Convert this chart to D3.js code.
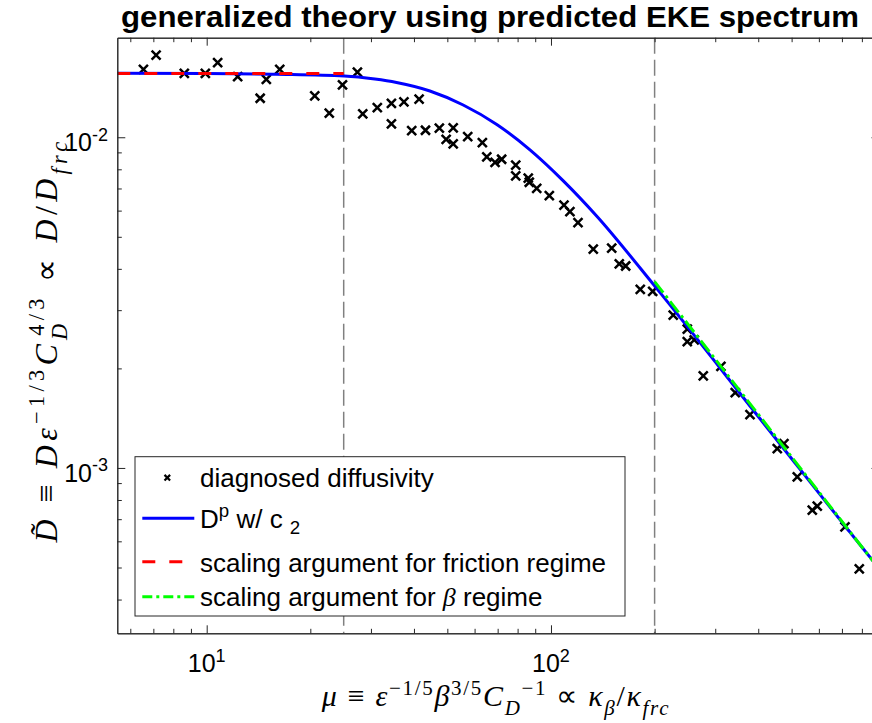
<!DOCTYPE html>
<html><head><meta charset="utf-8">
<script src="https://cdn.jsdelivr.net/npm/d3@7"></script>
<style>body{margin:0;background:#fff}</style>
</head><body>
<svg id="c" width="872" height="723"></svg>
<script>
const titleText = "generalized theory using predicted EKE spectrum";
// diagnosed diffusivity (crosses)
const diagMu = [6.55, 7.13, 8.61, 9.91, 10.76, 12.3, 14.3, 14.9, 16.3, 20.6, 22.7, 24.8, 27.4, 28.4, 31.3, 34.4, 37.4, 41.4, 34.4, 39.4, 43.2, 47.4, 52.0, 49.6, 52.0, 57.3, 63.2, 65.1, 68.8, 71.9, 79.0, 79.0, 85.9, 86.5, 90.9, 98.9, 109.1, 113.5, 119.8, 132.7, 150.1, 157.9, 164.8, 181.7, 197.4, 226.5, 248.8, 248.8, 260.7, 311.6, 276.9, 342.9, 378.5, 454.2, 475.0, 519.3, 574.1, 593.6, 714.4, 786.1];
const diagD = [0.01604, 0.01772, 0.01561, 0.01561, 0.01680, 0.01524, 0.01312, 0.01497, 0.01604, 0.01333, 0.01182, 0.01439, 0.01575, 0.01176, 0.01229, 0.01267, 0.01279, 0.01305, 0.01097, 0.01047, 0.01050, 0.01065, 0.01067, 0.00986, 0.00955, 0.01004, 0.00963, 0.00872, 0.00840, 0.00858, 0.00823, 0.00764, 0.00752, 0.00731, 0.00701, 0.00666, 0.00623, 0.00596, 0.00552, 0.00459, 0.00462, 0.00414, 0.00408, 0.00347, 0.00342, 0.00290, 0.00263, 0.00241, 0.00244, 0.00203, 0.00190, 0.00169, 0.00145, 0.001144, 0.001184, 0.000939, 0.000745, 0.000766, 0.000663, 0.000495];
// D^p w/ c_2 (blue curve)
const predMu = [5.5, 10, 15.85, 25.1, 30.8, 35.6, 44.5, 55.6, 69.6, 86.9, 108.6, 135.7, 200.5, 414, 856, 900];
const predD = [0.01562, 0.0156, 0.0155, 0.01532, 0.0150, 0.01464, 0.0138, 0.01252, 0.01093, 0.00916, 0.00738, 0.00578, 0.00354, 0.001368, 0.000528, 0.000495];
// scaling arguments
const fricMu = [5.5, 25];
const fricD = [0.0156, 0.0156];
const betaMu = [200, 900];
const betaD = [0.00366, 0.000493];
const regimeBounds = [25, 200];
// ticks
const xMajor = [10, 100];
const xMajorExp = ["1", "2"];
const xMinor = [6, 7, 8, 9, 20, 30, 40, 50, 60, 70, 80, 90, 200, 300, 400, 500, 600, 700, 800];
const yMajor = [0.001, 0.01];
const yMajorExp = ["-3", "-2"];
const yMinor = [4e-4, 5e-4, 6e-4, 7e-4, 8e-4, 9e-4, 0.002, 0.003, 0.004, 0.005, 0.006, 0.007, 0.008, 0.009];
const legendLabels = ["diagnosed diffusivity", "D^p w/ c_2", "scaling argument for friction regime", "scaling argument for \u03b2 regime"];

const svg = d3.select("#c");
svg.append("rect").attr("width", 872).attr("height", 723).attr("fill", "#fff");
const L = 117.3, R = 879.5, T = 37.7, B = 633.3;
const x = d3.scaleLog().domain([5.5, 900]).range([L, R]);
const y = d3.scaleLog().domain([Math.pow(10, -3.5), 0.02]).range([B, T]);
const AX = "#262626";
const SANS = "'Liberation Sans', Arial, Helvetica, sans-serif";
const SERIF = "'Liberation Serif', 'Times New Roman', serif";

svg.append("clipPath").attr("id", "clip").append("rect")
  .attr("x", L).attr("y", T).attr("width", R - L).attr("height", B - T);
const plot = svg.append("g").attr("clip-path", "url(#clip)");

// regime boundaries
plot.selectAll("line.vb").data(regimeBounds).join("line")
  .attr("x1", d => x(d)).attr("x2", d => x(d)).attr("y1", T).attr("y2", B)
  .attr("stroke", "#808080").attr("stroke-width", 1.5).attr("stroke-dasharray", "16,6");

// crosses
const pts = diagMu.map((m, i) => [x(m), y(diagD[i])]);
const cs = 4.5;
plot.append("g").selectAll("path").data(pts).join("path")
  .attr("d", p => `M${p[0]-cs},${p[1]-cs}L${p[0]+cs},${p[1]+cs}M${p[0]-cs},${p[1]+cs}L${p[0]+cs},${p[1]-cs}`)
  .attr("stroke", "#000").attr("stroke-width", 2.5).attr("fill", "none");

const line = d3.line().x(d => x(d[0])).y(d => y(d[1])).curve(d3.curveMonotoneX);
plot.append("path").datum(predMu.map((m, i) => [m, predD[i]])).attr("d", line)
  .attr("fill", "none").attr("stroke", "#0000ff").attr("stroke-width", 3);
plot.append("path").datum(fricMu.map((m, i) => [m, fricD[i]])).attr("d", d3.line().x(d => x(d[0])).y(d => y(d[1])))
  .attr("fill", "none").attr("stroke", "#ff0000").attr("stroke-width", 3).attr("stroke-dasharray", "13,14");
plot.append("path").datum(betaMu.map((m, i) => [m, betaD[i]])).attr("d", d3.line().x(d => x(d[0])).y(d => y(d[1])))
  .attr("fill", "none").attr("stroke", "#00ff00").attr("stroke-width", 3).attr("stroke-dasharray", "14,4,3,4");

// axes
function styleAxis(g) {
  g.selectAll("path.domain").attr("stroke", AX).attr("stroke-width", 1);
  g.selectAll(".tick line").attr("stroke", AX).attr("stroke-width", 1);
  g.selectAll(".tick text").remove();
}
const fmt = () => "";
svg.append("g").attr("transform", `translate(0,${B})`).call(d3.axisBottom(x).tickValues(xMajor).tickSizeInner(-8).tickSizeOuter(0).tickFormat(fmt)).call(styleAxis);
svg.append("g").attr("transform", `translate(0,${B})`).call(d3.axisBottom(x).tickValues(xMinor).tickSizeInner(-4.5).tickSizeOuter(0).tickFormat(fmt)).call(styleAxis);
svg.append("g").attr("transform", `translate(0,${T})`).call(d3.axisTop(x).tickValues(xMajor).tickSizeInner(-8).tickSizeOuter(0).tickFormat(fmt)).call(styleAxis);
svg.append("g").attr("transform", `translate(0,${T})`).call(d3.axisTop(x).tickValues(xMinor).tickSizeInner(-4.5).tickSizeOuter(0).tickFormat(fmt)).call(styleAxis);
svg.append("g").attr("transform", `translate(${L},0)`).call(d3.axisLeft(y).tickValues(yMajor).tickSizeInner(-8).tickSizeOuter(0).tickFormat(fmt)).call(styleAxis);
svg.append("g").attr("transform", `translate(${L},0)`).call(d3.axisLeft(y).tickValues(yMinor).tickSizeInner(-4.5).tickSizeOuter(0).tickFormat(fmt)).call(styleAxis);
svg.append("g").attr("transform", `translate(${R},0)`).call(d3.axisRight(y).tickValues(yMajor).tickSizeInner(-8).tickSizeOuter(0).tickFormat(fmt)).call(styleAxis);

// rich text helper
function rich(g, parts, base, family, supUp, subDown) {
  const up = supUp || 0.42, down = subDown || 0.25;
  const t = g.append("text").attr("font-family", family).attr("font-size", base).attr("fill", "#000");
  let cur = 0, prevLen = 0;
  parts.forEach(p => {
    const lvl = p.l || 0;
    const off = lvl === 1 ? -up * base : lvl === -1 ? down * base : 0;
    const fs = lvl ? base * (p.s || 0.7) : base;
    const ts = t.append("tspan").text(p.t).attr("font-size", fs).attr("dy", off - cur);
    if (p.it) ts.attr("font-style", "italic");
    let dx = 0;
    if (p.back) dx -= prevLen;
    if (p.dx) dx += p.dx;
    if (dx) ts.attr("dx", dx);
    cur = off;
    prevLen = ts.node().getComputedTextLength();
  });
  return t;
}
function fitWidth(t, target) {
  const n = t.text().length;
  const w = t.node().getBBox().width;
  t.selectAll("tspan").attr("letter-spacing", Math.max(0, (target - w) / n));
}

// tick labels
const TF = 25;
xMajor.forEach((v, i) => {
  rich(svg, [{t: "10"}, {t: xMajorExp[i], l: 1, s: 0.72}], TF, SANS)
    .attr("x", x(v)).attr("y", 672).attr("text-anchor", "middle");
});
yMajor.forEach((v, i) => {
  rich(svg, [{t: "10"}, {t: yMajorExp[i], l: 1, s: 0.72}], TF, SANS)
    .attr("x", 108).attr("y", y(v) + 14).attr("text-anchor", "end");
});

// title
svg.append("text").attr("x", 490).attr("y", 26.5).attr("text-anchor", "middle")
  .attr("font-family", SANS).attr("font-weight", "bold").attr("font-size", 29)
  .attr("textLength", 738).attr("lengthAdjust", "spacingAndGlyphs").text(titleText);

// x label
const xl = rich(svg, [
  {t: "\u03bc", it: 1}, {t: " \u2261 "}, {t: "\u03b5", it: 1}, {t: "\u22121/5", l: 1},
  {t: "\u03b2", it: 1}, {t: "3/5", l: 1}, {t: "C", it: 1}, {t: "D", it: 1, l: -1},
  {t: "\u22121", l: 1}, {t: " \u221d "}, {t: "\u03ba", it: 1}, {t: "\u03b2", it: 1, l: -1},
  {t: "/"}, {t: "\u03ba", it: 1}, {t: "frc", it: 1, l: -1}
], 30, SERIF, 0.38, 0.3).attr("x", 496).attr("y", 706).attr("text-anchor", "middle");
fitWidth(xl, 350);

// y label
const yl = rich(svg, [
  {t: "D\u0303", it: 1}, {t: " \u2261 "}, {t: "D\u03b5", it: 1}, {t: "\u22121/3", l: 1},
  {t: "C", it: 1}, {t: "D", it: 1, l: -1}, {t: "4/3", l: 1, back: 1},
  {t: " \u221d "}, {t: "D", it: 1}, {t: "/"}, {t: "D", it: 1}, {t: "frc", it: 1, l: -1}
], 32, SERIF, 0.42, 0.3).attr("transform", "translate(57,340) rotate(-90)").attr("text-anchor", "middle");
fitWidth(yl, 410);

// legend
const lg = svg.append("g");
lg.append("rect").attr("x", 135).attr("y", 456.7).attr("width", 490).attr("height", 159.3)
  .attr("fill", "#fff").attr("stroke", AX).attr("stroke-width", 1);
const LF = 26;
const lx0 = 142.3, lx1 = 194.3, tx = 200;
{
  const cx = 167.3, cy = 477.7, r = 2.8;
  lg.append("path").attr("d", `M${cx-r},${cy-r}L${cx+r},${cy+r}M${cx-r},${cy+r}L${cx+r},${cy-r}`)
    .attr("stroke", "#000").attr("stroke-width", 2.2);
  lg.append("text").attr("x", tx).attr("y", 486.7).attr("font-family", SANS).attr("font-size", LF).text(legendLabels[0]);
}
lg.append("line").attr("x1", lx0).attr("x2", lx1).attr("y1", 518.3).attr("y2", 518.3).attr("stroke", "#0000ff").attr("stroke-width", 3);
rich(lg, [{t: "D"}, {t: "p", l: 1, s: 0.72}, {t: " w/ c "}, {t: "2", l: -1, s: 0.72}], LF, SANS)
  .attr("x", tx).attr("y", 527.7);
lg.append("line").attr("x1", lx0).attr("x2", lx1).attr("y1", 561.7).attr("y2", 561.7).attr("stroke", "#ff0000").attr("stroke-width", 3).attr("stroke-dasharray", "13,14");
lg.append("text").attr("x", tx).attr("y", 571.7).attr("font-family", SANS).attr("font-size", LF).text(legendLabels[2]);
lg.append("line").attr("x1", lx0).attr("x2", lx1).attr("y1", 596.7).attr("y2", 596.7).attr("stroke", "#00ff00").attr("stroke-width", 3).attr("stroke-dasharray", "10,4,3,4");
{
  const t = lg.append("text").attr("x", tx).attr("y", 605.7).attr("font-family", SANS).attr("font-size", LF);
  t.append("tspan").text("scaling argument for ");
  t.append("tspan").attr("font-family", SERIF).attr("font-style", "italic").text("\u03b2");
  t.append("tspan").text(" regime");
}
</script>
</body></html>
